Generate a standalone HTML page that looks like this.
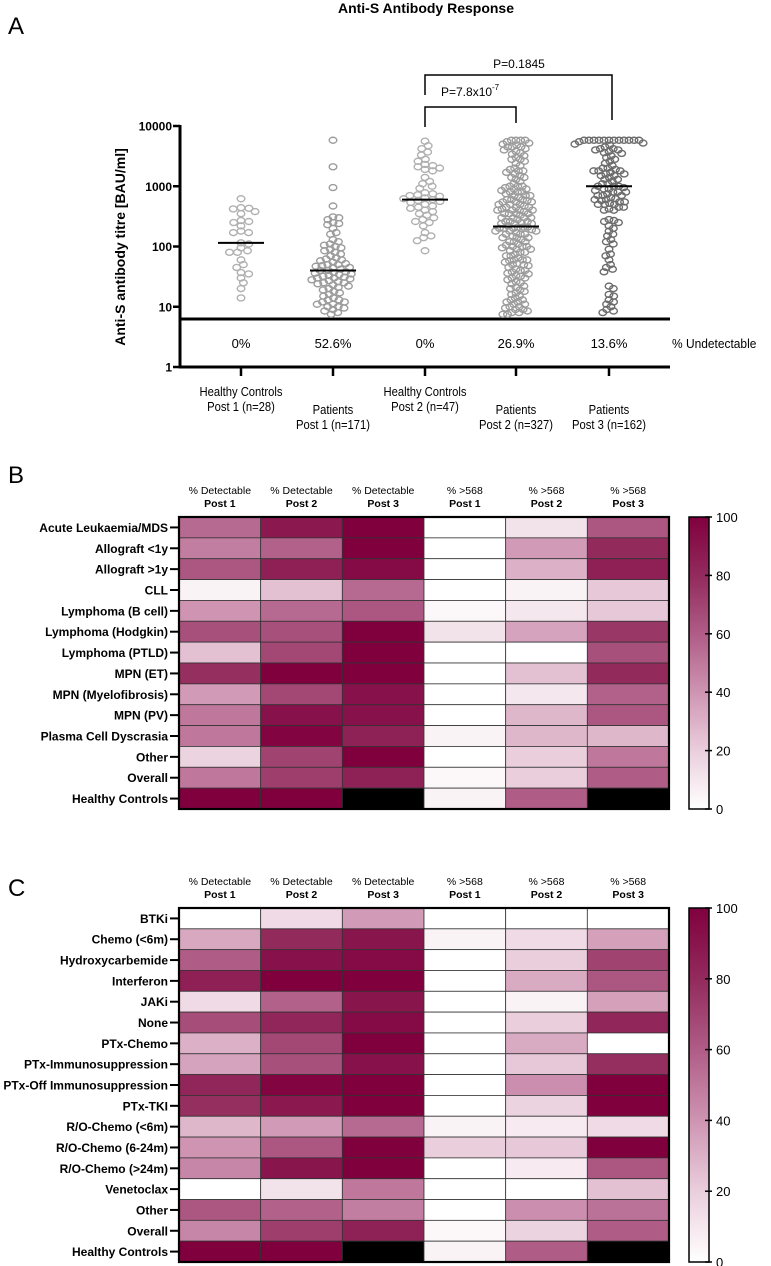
<!DOCTYPE html>
<html><head><meta charset="utf-8">
<style>
html,body{margin:0;padding:0;background:#fff;}
svg{display:block;font-family:"Liberation Sans",Arial,sans-serif;}
</style></head>
<body>
<svg id="fig" width="771" height="1266" viewBox="0 0 771 1266" xmlns="http://www.w3.org/2000/svg">
<text x="426" y="13" text-anchor="middle" font-size="14" font-weight="bold">Anti-S Antibody Response</text>
<text x="8" y="34" font-size="24">A</text>
<text x="8" y="483" font-size="24">B</text>
<text x="8" y="896" font-size="24">C</text>
<g id="scatter"></g>
<g id="heatB"></g>
<g id="heatC"></g>
</svg>
<script>
// ---------- Panel A data ----------
const groupLine1 = ["Healthy Controls","Patients","Healthy Controls","Patients","Patients"];
const groupLine2 = ["Post 1 (n=28)","Post 1 (n=171)","Post 2 (n=47)","Post 2 (n=327)","Post 3 (n=162)"];
const undetectable = ["0%","52.6%","0%","26.9%","13.6%"];
const medians = [115, 40, 600, 215, 1000];
const yTicks = [1, 10, 100, 1000, 10000];
const g1 = [620,430,440,420,380,350,270,260,250,220,180,170,170,115,110,95,85,80,80,60,50,45,35,37,30,25,20,14];
const g2 = [5800,2100,950,470,310,300,280,250,240,230,200,170,160,130,120,110,105,100,95,90,85,80,75,70,65,62,60,58,55,52,50,50,48,47,45,45,42,40,40,38,37,36,35,34,33,32,31,30,30,29,28,27,26,25,25,24,23,22,21,20,19,18,17,16,15,14,13,13,12,12,11,11,10,10,9.5,9,8.5,8,7.5];
const g3 = [5600,4700,4200,3700,3300,2800,2600,2300,2200,2100,2000,1900,1800,1400,1200,1100,1000,920,780,750,720,700,680,640,620,600,580,560,540,500,470,450,430,400,380,350,330,300,280,260,250,220,170,150,140,125,85];
const g4 = [5800,5800,5800,5800,5500,5200,5000,4800,4500,4500,4500,4200,4000,3800,3600,3400,3200,3000,2800,2800,2600,2400,2200,2000,1900,1800,1800,1700,1600,1500,1400,1400,1300,1200,1100,
1000,1000,1000,950,900,900,850,800,800,800,750,700,700,700,650,600,600,600,580,550,550,550,500,500,500,470,450,450,450,420,400,400,400,400,380,350,350,350,350,330,300,300,300,300,280,260,260,260,250,240,240,240,220,210,210,210,200,200,200,190,180,180,180,170,160,160,160,150,140,140,140,130,120,120,120,110,105,100,100,100,
95,90,90,85,80,80,75,70,70,65,60,60,60,58,55,52,50,50,48,45,42,40,40,38,36,35,33,32,30,30,
28,26,25,24,22,21,20,19,18,17,16,15,14,13,13,12,12,11,11,10,10,9.5,9,9,8.5,8,8,7.5,7.5];
const g5 = [5800,5800,5800,5800,5800,5800,5800,5800,5800,5800,5800,5800,5500,5200,5000,4800,4500,4200,4200,4000,4000,3800,3600,3500,3200,3000,2800,2600,2400,2200,2000,2000,1900,1800,1800,1800,1700,1600,1600,1500,1500,1400,1300,1300,1200,1100,1100,1000,1000,1000,950,900,900,850,800,800,800,750,700,700,700,650,620,600,600,580,550,550,520,500,500,500,450,450,420,400,400,
280,270,260,250,220,200,180,160,150,130,120,110,90,75,70,60,50,45,42,38,22,20,16,15,13,12,11,10,9,8.5,8];
const seriesA = [g1, g2, g3, g4, g5];

// ---------- Heatmap data ----------
const colHeads1 = ["% Detectable","% Detectable","% Detectable","% >568","% >568","% >568"];
const colHeads2 = ["Post 1","Post 2","Post 3","Post 1","Post 2","Post 3"];
const rowsB = ["Acute Leukaemia/MDS","Allograft <1y","Allograft >1y","CLL","Lymphoma (B cell)","Lymphoma (Hodgkin)","Lymphoma (PTLD)","MPN (ET)","MPN (Myelofibrosis)","MPN (PV)","Plasma Cell Dyscrasia","Other","Overall","Healthy Controls"];
const valsB = [
[55,88,100,0,12,62],[48,58,100,0,38,80],[62,85,95,0,30,85],[5,25,55,0,5,22],[40,55,62,3,10,22],
[65,65,100,12,35,75],[25,68,100,0,0,65],[78,100,100,0,25,80],[38,68,92,0,10,58],[50,92,92,0,28,62],
[50,98,84,5,28,28],[18,70,100,0,20,50],[50,72,84,3,20,60],[100,100,null,5,60,null]];
const rowsC = ["BTKi","Chemo (<6m)","Hydroxycarbemide","Interferon","JAKi","None","PTx-Chemo","PTx-Immunosuppression","PTx-Off Immunosuppression","PTx-TKI","R/O-Chemo (<6m)","R/O-Chemo (6-24m)","R/O-Chemo (>24m)","Venetoclax","Other","Overall","Healthy Controls"];
const valsC = [
[0,15,38,0,0,0],[33,80,90,5,15,36],[60,92,95,0,20,70],[85,100,100,0,32,62],[15,58,90,0,5,36],
[66,82,95,0,20,82],[30,68,100,0,32,0],[35,65,92,0,22,78],[82,98,100,0,42,100],[78,88,100,0,18,100],
[28,38,55,5,8,15],[40,62,100,20,22,100],[45,90,100,0,8,62],[0,12,50,0,0,25],[62,58,48,0,42,52],
[45,72,84,3,18,60],[100,100,null,5,60,null]];
const cbarTicks = [0,20,40,60,80,100];

const NS = "http://www.w3.org/2000/svg";
function mk(parent, tag, attrs, text){
  const e = document.createElementNS(NS, tag);
  for (const k in attrs) e.setAttribute(k, attrs[k]);
  if (text !== undefined) e.textContent = text;
  parent.appendChild(e); return e;
}

// ---------- Panel A ----------
const A = document.getElementById('scatter');
const xL = 180, xR = 670, yTop = 126, yBot = 367;
const yScale = v => yBot - (yBot - yTop) * Math.log10(v) / 4;
const xCenters = [241, 333, 425, 516, 609];
const xScale = i => xCenters[i];
const strokes = ["#b0b0b0","#9c9c9c","#b0b0b0","#9c9c9c","#6c6c6c"];
const swarmDx = [8, 6, 8, 4.6, 5];

let e = mk(A,'line',{x1:xL,y1:yTop-1,x2:xL,y2:yBot+1.5,stroke:'#000','stroke-width':3});
 
e = mk(A,'line',{x1:xL-1.5,y1:yBot,x2:xR,y2:yBot,stroke:'#000','stroke-width':3});
 
e = mk(A,'line',{x1:xL,y1:319,x2:xR,y2:319,stroke:'#000','stroke-width':3});
 
yTicks.forEach(t=>{
  const y = yScale(t);
  const tk = mk(A,'line',{x1:xL-7,y1:y,x2:xL,y2:y,stroke:'#000','stroke-width':2.5});
   
  const lb = mk(A,'text',{x:xL-8,y:y+4.5,'text-anchor':'end','font-size':12,'font-weight':'bold'},String(t));
   
});
e = mk(A,'text',{x:0,y:0,transform:'translate(125,247) rotate(-90)','text-anchor':'middle','font-size':14,'font-weight':'bold'},'Anti-S antibody titre [BAU/ml]');
 

seriesA.forEach((vals, gi)=>{
  const cx = xScale(gi);
  const tk = mk(A,'line',{x1:cx,y1:yBot,x2:cx,y2:yBot+9,stroke:'#000','stroke-width':2.5});
   
  const patient = groupLine1[gi] === 'Patients';
  const ly = patient ? 414 : 396;
  const l1 = mk(A,'text',{x:cx,y:ly,'text-anchor':'middle','font-size':12.5,transform:'translate('+cx+',0) scale(0.9,1) translate('+(-cx)+',0)'},groupLine1[gi]);
   
  const l2 = mk(A,'text',{x:cx,y:ly+15,'text-anchor':'middle','font-size':12.5,transform:'translate('+cx+',0) scale(0.9,1) translate('+(-cx)+',0)'},groupLine2[gi]);
   
  const pu = mk(A,'text',{x:cx,y:348,'text-anchor':'middle','font-size':13},undetectable[gi]);
   
  const Dx = swarmDx[gi], Dy = 5;
  const placed = [];
  const sorted = vals.slice().sort((a,b)=>b-a);
  const g = mk(A,'g',{});
   
  sorted.forEach(v=>{
    const y = yScale(v);
    const cands = [0];
    placed.forEach(p=>{
      const dy = Math.abs(p.y - y);
      if (dy < Dy){ const dx = Dx*Math.sqrt(1-(dy/Dy)*(dy/Dy)); cands.push(p.x+dx, p.x-dx); }
    });
    cands.sort((a,b)=>Math.abs(a)-Math.abs(b));
    let xo = 0;
    for (const c of cands){
      let ok = true;
      for (const p of placed){ const dx=(p.x-c)/Dx, dy=(p.y-y)/Dy; if (dx*dx+dy*dy < 0.999){ok=false;break;} }
      if (ok){ xo = c; break; }
    }
    placed.push({x:xo,y:y});
    const pt = mk(g,'ellipse',{cx:cx+xo,cy:y,rx:3.8,ry:3,fill:'none',stroke:strokes[gi],'stroke-width':1.4});
     
  });
  const my = yScale(medians[gi]);
  const md = mk(A,'line',{x1:cx-23,y1:my,x2:cx+23,y2:my,stroke:'#000','stroke-width':2});
   
});
e = mk(A,'text',{x:672,y:348,'font-size':13,transform:'translate(672,0) scale(0.92,1) translate(-672,0)'},'% Undetectable');
 
e = mk(A,'path',{d:'M425,95 V75 H612 V120',fill:'none',stroke:'#000','stroke-width':1.5});
 
e = mk(A,'text',{x:519,y:68,'text-anchor':'middle','font-size':12},'P=0.1845');
 
e = mk(A,'path',{d:'M425,127 V107 H516 V123',fill:'none',stroke:'#000','stroke-width':1.5});
 
e = mk(A,'text',{x:441,y:96,'font-size':12},'P=7.8x10');
 
e = mk(A,'text',{x:492,y:90,'font-size':8},'-7');
 

// ---------- Heatmaps ----------
const stops = [[0,[255,255,255]],[0.2,[234,206,220]],[0.4,[206,148,178]],[0.6,[175,92,134]],[0.8,[146,42,92]],[1,[128,0,62]]];
function cmap(v){
  if (v === null) return '#000';
  const t = Math.max(0,Math.min(1,v/100));
  for (let i=1;i<stops.length;i++){
    if (t <= stops[i][0]){
      const a=stops[i-1], b=stops[i], f=(t-a[0])/(b[0]-a[0]);
      const c=a[1].map((x,k)=>Math.round(x+(b[1][k]-x)*f));
      return 'rgb('+c.join(',')+')';
    }
  }
  return 'rgb(128,0,62)';
}
let gradId = 0;
function heatmap(G, rows, vals, top, bottom, headY){
  const left = 179, right = 669;
  const cw = (right-left)/6, rh = (bottom-top)/rows.length;
  const cx = j => left + j*cw;
  const cy = i => top + i*rh;
  colHeads1.forEach((h,j)=>{
    const t1 = mk(G,'text',{x:cx(j)+cw/2,y:headY,'text-anchor':'middle','font-size':10.5},h);
     
    const t2 = mk(G,'text',{x:cx(j)+cw/2,y:headY+13,'text-anchor':'middle','font-size':10.5,'font-weight':'bold'},colHeads2[j]);
     
  });
  rows.forEach((r,i)=>{
    const yc = cy(i)+rh/2;
    const lb = mk(G,'text',{x:168,y:yc+4.5,'text-anchor':'end','font-size':12,'font-weight':'bold'},r);
     
    const tk = mk(G,'line',{x1:170,y1:yc,x2:left,y2:yc,stroke:'#000','stroke-width':2});
     
    vals[i].forEach((v,j)=>{
      const c = mk(G,'rect',{x:cx(j),y:cy(i),width:cw,height:rh,fill:cmap(v),stroke:'#333','stroke-width':0.8});
       
    });
  });
  const fr = mk(G,'rect',{x:left,y:top,width:right-left,height:bottom-top,fill:'none',stroke:'#000','stroke-width':2.2});
   
  const id = 'cg'+(gradId++);
  const defs = mk(G,'defs',{});
  const lg = mk(defs,'linearGradient',{id:id,x1:0,y1:1,x2:0,y2:0});
  for (let k=0;k<=20;k++){ mk(lg,'stop',{offset:(k/20),'stop-color':cmap(k*5)}); }
  const cb = mk(G,'rect',{x:689,y:top,width:20,height:bottom-top,fill:'url(#'+id+')',stroke:'#000','stroke-width':1.5});
   
  cbarTicks.forEach(t=>{
    const y = bottom - (bottom-top)*t/100;
    const tk = mk(G,'line',{x1:705,y1:y,x2:712,y2:y,stroke:'#000','stroke-width':1.5});
     
    const lb = mk(G,'text',{x:716,y:y+5,'font-size':13},String(t));
     
  });
}
heatmap(document.getElementById('heatB'), rowsB, valsB, 517, 809, 494);
heatmap(document.getElementById('heatC'), rowsC, valsC, 908, 1262, 885);
</script>
</body></html>
